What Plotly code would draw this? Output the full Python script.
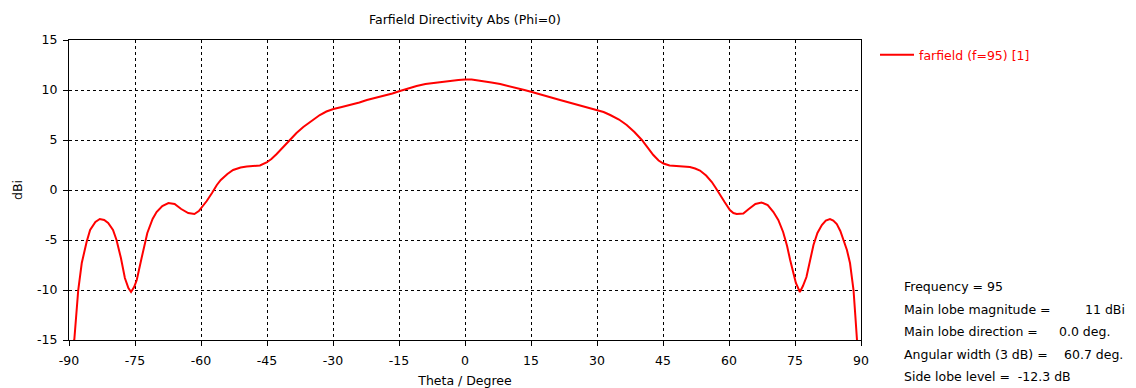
import plotly.graph_objects as go

theta = [-89.4, -88.8, -87.9, -87.1, -86.0, -85.2, -84.0, -83.0, -82.0, -81.1, -80.0, -79.2, -78.2, -77.3,
         -76.5, -75.9, -75.2, -74.6, -73.5, -72.2, -71.0, -70.1, -68.8, -67.4, -66.0, -64.5, -62.9, -61.5,
         -60.5, -59.5, -58.7, -57.5, -56.4, -55.5, -54.0, -52.7, -51.0, -49.6, -48.0, -46.6, -45.1, -44.0,
         -42.8, -41.3, -39.8, -38.3, -36.75, -35.0, -33.0, -31.5, -29.9, -28.0, -26.1, -24.0, -22.3, -20.5,
         -18.6, -16.5, -14.8, -13.0, -11.0, -9.0, -7.2, -5.2, -3.4, -1.5, 0.0, 1.5, 3.0, 4.2, 6.0, 8.0,
         10.0, 11.75, 13.5, 15.2, 17.0, 18.6, 20.0, 21.6, 24.0, 26.1, 28.0, 29.9, 31.5, 33.0, 35.0, 36.75,
         38.5, 40.2, 41.5, 42.8, 44.0, 45.1, 46.5, 48.1, 49.5, 51.1, 52.3, 53.4, 54.8, 56.1, 57.0, 57.95,
         59.0, 60.2, 61.0, 61.75, 63.25, 64.5, 66.0, 67.4, 68.8, 70.1, 71.2, 72.3, 73.2, 73.9, 74.6, 75.2,
         76.1, 76.8, 77.6, 78.4, 79.2, 80.1, 81.1, 82.0, 82.95, 83.7, 84.5, 85.3, 86.0, 86.8, 87.5, 88.0,
         88.3, 88.7, 89.1, 89.4]
directivity = [-17.0, -15.0, -10.0, -7.3, -5.2, -4.0, -3.2, -2.9, -3.0, -3.3, -4.0, -5.0, -6.8, -8.8,
               -9.8, -10.2, -9.7, -9.0, -6.8, -4.3, -2.9, -2.2, -1.6, -1.3, -1.4, -1.9, -2.3, -2.4,
               -2.1, -1.6, -1.1, -0.3, 0.5, 1.0, 1.6, 2.0, 2.25, 2.35, 2.4, 2.45, 2.75, 3.1,
               3.6, 4.3, 5.0, 5.7, 6.3, 6.9, 7.5, 7.85, 8.1, 8.3, 8.5, 8.75, 9.0, 9.2,
               9.35, 9.65, 9.9, 10.15, 10.4, 10.6, 10.7, 10.85, 10.9, 11.0, 11.05, 11.05, 10.95, 10.9, 10.75, 10.6,
               10.4, 10.25, 10.0, 9.8, 9.6, 9.4, 9.2, 9.0, 8.7, 8.4, 8.2, 8.0, 7.8, 7.5, 7.05, 6.5,
               5.8, 5.0, 4.2, 3.5, 2.95, 2.65, 2.45, 2.4, 2.38, 2.3, 2.15, 1.95, 1.45, 0.8, 0.2, -0.5,
               -1.2, -2.0, -2.3, -2.4, -2.35, -1.9, -1.4, -1.25, -1.5, -2.2, -3.0, -4.2, -5.6, -7.0, -8.4, -9.3,
               -10.2, -9.6, -8.7, -7.0, -5.5, -4.3, -3.5, -3.05, -2.9, -3.05, -3.4, -4.1, -4.9, -6.0, -7.3, -8.8,
               -10.0, -12.5, -15.0, -17.0]

x_ticks = [-90, -75, -60, -45, -30, -15, 0, 15, 30, 45, 60, 75, 90]
y_ticks = [-15, -10, -5, 0, 5, 10, 15]

info_labels = ["Frequency = 95", "Main lobe magnitude =", "Main lobe direction =",
               "Angular width (3 dB) =", "Side lobe level =  -12.3 dB"]
info_values = ["", "11 dBi", "0.0 deg.", "60.7 deg.", ""]

FONT = "DejaVu Sans"
FS = 12.5

fig = go.Figure()
fig.add_trace(go.Scatter(x=theta, y=directivity, mode="lines",
                         line=dict(color="#ff0000", width=2),
                         name="farfield (f=95) [1]"))

axis_common = dict(showline=True, linecolor="#000000", linewidth=1, mirror=True,
                   showgrid=True, gridcolor="#000000", gridwidth=1, griddash="dot",
                   zeroline=False, ticks="outside", ticklen=5, tickcolor="#000000",
                   automargin=False,
                   tickfont=dict(family=FONT, size=FS, color="#000000"))

PL, PR, PT, PB = 69, 861, 40, 340
W, H = 1136, 388

fig.update_layout(
    width=W, height=H,
    margin=dict(l=PL, r=W - PR, t=PT, b=H - PB),
    paper_bgcolor="white", plot_bgcolor="white",
    title=dict(text="Farfield Directivity Abs (Phi=0)", x=(PL + PR) / 2 / W, xanchor="center",
               y=1 - 20 / H, yanchor="middle", font=dict(family=FONT, size=FS, color="#000000")),
    xaxis=dict(range=[-90, 90], tickvals=x_ticks, ticktext=[str(v) for v in x_ticks],
               ticklabelstandoff=4,
               title=dict(text="Theta / Degree", font=dict(family=FONT, size=FS, color="#000000"), standoff=10),
               **axis_common),
    yaxis=dict(range=[-15, 15], tickvals=y_ticks, ticktext=[str(v) for v in y_ticks],
               ticklabelstandoff=3,
               title=dict(text="dBi", font=dict(family=FONT, size=FS, color="#000000"), standoff=11),
               **axis_common),
    showlegend=True,
    legend=dict(x=(875 - PL) / (PR - PL), y=1.0, xanchor="left", yanchor="top", bgcolor="rgba(0,0,0,0)",
                font=dict(family=FONT, size=FS, color="#ff0000"), itemwidth=34),
)

line_y = [286, 309, 331, 354, 376]
value_x = [0, 1083, 1057, 1062, 0]
for lab, val, py, vx in zip(info_labels, info_values, line_y, value_x):
    fig.add_annotation(text=lab, xref="paper", yref="paper", x=(902 - PL) / (PR - PL), y=(PB - py) / (PB - PT),
                       xanchor="left", yanchor="middle", showarrow=False,
                       font=dict(family=FONT, size=FS, color="#000000"))
    if val:
        fig.add_annotation(text=val, xref="paper", yref="paper", x=(vx - PL) / (PR - PL), y=(PB - py) / (PB - PT),
                           xanchor="left", yanchor="middle", showarrow=False,
                           font=dict(family=FONT, size=FS, color="#000000"))

fig.write_html("out.html", config={"displayModeBar": False},
               post_script="document.body.style.margin='0';document.body.style.overflow='hidden';")
